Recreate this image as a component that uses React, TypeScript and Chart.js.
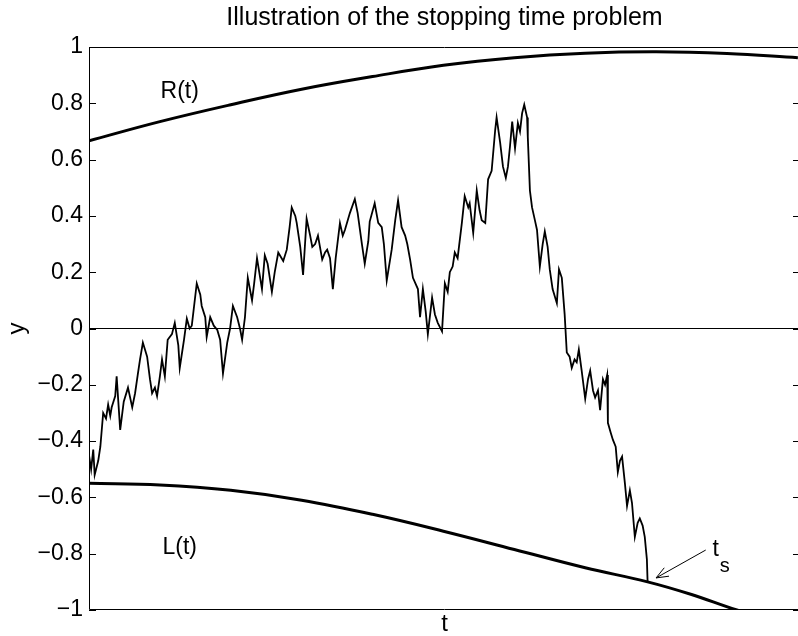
import React, { useEffect, useRef } from "react";
import { Chart, registerables } from "chart.js";

Chart.register(...registerables);

const FONT = "'Liberation Sans', Arial, Helvetica, sans-serif";
const TITLE = "Illustration of the stopping time problem";
const X_LABEL = "t";
const Y_LABEL = "y";
const Y_MIN = -1;
const Y_MAX = 1;
const Y_STEP = 0.2;
const T_MIN = 0;
const T_MAX = 1.003;

// Upper boundary R(t)
const R_T = [0, 0.1, 0.2, 0.3, 0.4, 0.5, 0.6, 0.7, 0.8, 0.9, 1.0];
const R_Y = [0.667, 0.735, 0.795, 0.85, 0.895, 0.935, 0.962, 0.978, 0.983, 0.977, 0.962];

// Lower boundary L(t)
const L_T = [0, 0.1, 0.2, 0.3, 0.4, 0.5, 0.6, 0.7, 0.788, 0.85, 0.914, 1.0];
const L_Y = [-0.55, -0.556, -0.575, -0.61, -0.66, -0.72, -0.785, -0.85, -0.9, -0.945, -1.0, -1.06];

// Random walk path (stopped at t_s)
const WALK_T = [
  0, 0.003, 0.006, 0.008, 0.013, 0.016, 0.02, 0.024, 0.027, 0.03, 0.032, 0.037, 0.039, 0.044, 0.049,
  0.055, 0.061, 0.065, 0.069, 0.072, 0.076, 0.082, 0.086, 0.089, 0.093, 0.096, 0.1, 0.103, 0.107,
  0.111, 0.117, 0.121, 0.126, 0.128, 0.134, 0.138, 0.142, 0.145, 0.152, 0.157, 0.159, 0.164, 0.166,
  0.171, 0.176, 0.181, 0.185, 0.189, 0.195, 0.199, 0.203, 0.209, 0.213, 0.216, 0.22, 0.224, 0.23,
  0.233, 0.237, 0.244, 0.248, 0.252, 0.258, 0.262, 0.267, 0.274, 0.279, 0.283, 0.286, 0.291, 0.293,
  0.298, 0.302, 0.307, 0.312, 0.315, 0.319, 0.323, 0.329, 0.333, 0.336, 0.34, 0.344, 0.348, 0.354,
  0.358, 0.361, 0.368, 0.375, 0.379, 0.385, 0.389, 0.394, 0.396, 0.403, 0.408, 0.413, 0.416, 0.42,
  0.427, 0.432, 0.436, 0.441, 0.446, 0.449, 0.453, 0.457, 0.464, 0.467, 0.471, 0.475, 0.478, 0.484,
  0.488, 0.492, 0.498, 0.502, 0.506, 0.509, 0.513, 0.516, 0.52, 0.526, 0.53, 0.535, 0.537, 0.542,
  0.547, 0.551, 0.554, 0.559, 0.563, 0.568, 0.573, 0.575, 0.58, 0.584, 0.588, 0.591, 0.594, 0.597,
  0.601, 0.605, 0.608, 0.611, 0.614, 0.618, 0.619, 0.622, 0.625, 0.629, 0.632, 0.636, 0.64, 0.643,
  0.647, 0.65, 0.654, 0.66, 0.663, 0.667, 0.671, 0.674, 0.678, 0.681, 0.685, 0.688, 0.691, 0.695,
  0.7, 0.704, 0.707, 0.711, 0.714, 0.718, 0.721, 0.725, 0.728, 0.731, 0.732, 0.736, 0.739, 0.743,
  0.746, 0.749, 0.752, 0.756, 0.759, 0.763, 0.766, 0.77, 0.774, 0.777, 0.781, 0.784, 0.787, 0.788,
];
const WALK_Y = [
  -0.45, -0.5, -0.43, -0.52, -0.47, -0.42, -0.3, -0.32, -0.27, -0.31, -0.28, -0.24, -0.17, -0.36, -0.26,
  -0.21, -0.28, -0.23, -0.16, -0.11, -0.05, -0.1, -0.18, -0.23, -0.21, -0.24, -0.17, -0.11, -0.17,
  -0.04, -0.02, 0.02, -0.06, -0.14, -0.04, 0.035, 0.0, 0.01, 0.16, 0.12, 0.08, 0.04, -0.03,
  0.04, 0.01, -0.005, -0.04, -0.16, -0.05, 0.0, 0.08, 0.04, 0.0, -0.04, 0.04, 0.18, 0.1,
  0.16, 0.25, 0.14, 0.26, 0.23, 0.13, 0.2, 0.27, 0.24, 0.28, 0.36, 0.43, 0.4, 0.375,
  0.29, 0.19, 0.39, 0.33, 0.29, 0.3, 0.33, 0.245, 0.27, 0.28, 0.25, 0.14, 0.25, 0.375,
  0.33, 0.35, 0.41, 0.46, 0.41, 0.3, 0.23, 0.31, 0.38, 0.445, 0.375, 0.36, 0.3, 0.17,
  0.28, 0.385, 0.455, 0.36, 0.33, 0.3, 0.245, 0.18, 0.14, 0.04, 0.14, 0.06, -0.02, 0.11,
  0.05, 0.02, -0.01, 0.16, 0.13, 0.2, 0.22, 0.27, 0.25, 0.375, 0.47, 0.43, 0.445, 0.34,
  0.49, 0.42, 0.385, 0.375, 0.53, 0.56, 0.705, 0.75, 0.66, 0.575, 0.535, 0.575, 0.65, 0.735,
  0.64, 0.73, 0.7, 0.765, 0.795, 0.75, 0.68, 0.49, 0.43, 0.385, 0.35, 0.22, 0.3, 0.345,
  0.29, 0.21, 0.14, 0.09, 0.21, 0.18, 0.05, -0.085, -0.1, -0.14, -0.11, -0.12, -0.075, -0.15,
  -0.25, -0.18, -0.15, -0.22, -0.245, -0.22, -0.29, -0.18, -0.2, -0.165, -0.335, -0.37, -0.395, -0.42,
  -0.51, -0.47, -0.455, -0.55, -0.63, -0.575, -0.62, -0.74, -0.69, -0.675, -0.7, -0.74, -0.82, -0.9,
];

// Annotations
const CURVE_LABELS = [
  { text: "R(t)", t: 0.128, y: 0.84 },
  { text: "L(t)", t: 0.128, y: -0.78 },
];
const ARROW_TAIL = { t: 0.87, y: -0.787 };
const ARROW_TIP = { t: 0.8, y: -0.886 };
const TS_MAIN = { text: "t", t: 0.884, y: -0.787 };
const TS_SUB = { text: "s", t: 0.897, y: -0.845 };

const pts = (ts: number[], ys: number[]) => ts.map((t, i) => ({ x: t, y: ys[i] }));

const fmtTick = (v: number) => {
  const r = Math.round(v * 10) / 10;
  if (r < 0) return "\u2212" + String(Math.abs(r));
  return String(r === 0 ? 0 : r);
};

const framePlugin = {
  id: "frame",
  afterDatasetsDraw(chart: any) {
    const { ctx, chartArea: a, scales } = chart;
    const xs = scales.x;
    const ys = scales.y;
    ctx.save();
    ctx.strokeStyle = "#000";
    ctx.lineWidth = 1;
    ctx.beginPath();
    ctx.rect(a.left + 0.5, a.top + 0.5, a.right - a.left - 1, a.bottom - a.top - 1);
    ctx.stroke();
    ctx.beginPath();
    for (const tk of ys.ticks) {
      const py = Math.round(ys.getPixelForValue(tk.value)) + 0.5;
      ctx.moveTo(a.left, py);
      ctx.lineTo(a.left + 7, py);
      ctx.moveTo(a.right - 7, py);
      ctx.lineTo(a.right, py);
    }
    ctx.stroke();

    // arrow
    const x0 = xs.getPixelForValue(ARROW_TAIL.t);
    const y0 = ys.getPixelForValue(ARROW_TAIL.y);
    const x1 = xs.getPixelForValue(ARROW_TIP.t);
    const y1 = ys.getPixelForValue(ARROW_TIP.y);
    const ang = Math.atan2(y1 - y0, x1 - x0);
    const hl = 13;
    const ha = 0.38;
    ctx.beginPath();
    ctx.moveTo(x0, y0);
    ctx.lineTo(x1, y1);
    ctx.moveTo(x1 - hl * Math.cos(ang - ha), y1 - hl * Math.sin(ang - ha));
    ctx.lineTo(x1, y1);
    ctx.lineTo(x1 - hl * Math.cos(ang + ha), y1 - hl * Math.sin(ang + ha));
    ctx.stroke();

    // text labels
    ctx.fillStyle = "#000";
    ctx.textAlign = "center";
    ctx.textBaseline = "middle";
    ctx.font = `23px ${FONT}`;
    for (const l of CURVE_LABELS) {
      ctx.fillText(l.text, xs.getPixelForValue(l.t), ys.getPixelForValue(l.y));
    }
    ctx.fillText(TS_MAIN.text, xs.getPixelForValue(TS_MAIN.t), ys.getPixelForValue(TS_MAIN.y));
    ctx.font = `20px ${FONT}`;
    ctx.fillText(TS_SUB.text, xs.getPixelForValue(TS_SUB.t), ys.getPixelForValue(TS_SUB.y));
    ctx.restore();
  },
};

export default function App() {
  const ref = useRef<HTMLCanvasElement | null>(null);

  useEffect(() => {
    if (!ref.current) return;
    const chart = new Chart(ref.current, {
      type: "line",
      data: {
        datasets: [
          {
            label: "zero",
            data: [
              { x: T_MIN, y: 0 },
              { x: T_MAX, y: 0 },
            ],
            borderColor: "#000",
            borderWidth: 1.2,
            pointRadius: 0,
          },
          {
            label: "R(t)",
            data: pts(R_T, R_Y),
            borderColor: "#000",
            borderWidth: 3,
            pointRadius: 0,
            tension: 0.4,
          },
          {
            label: "L(t)",
            data: pts(L_T, L_Y),
            borderColor: "#000",
            borderWidth: 3,
            pointRadius: 0,
            tension: 0.4,
          },
          {
            label: "walk",
            data: pts(WALK_T, WALK_Y),
            borderColor: "#000",
            borderWidth: 1.8,
            pointRadius: 0,
            tension: 0,
          },
        ],
      },
      options: {
        animation: false,
        responsive: false,
        devicePixelRatio: 1,
        layout: { padding: { left: 0, right: 1, top: 0, bottom: 0 } },
        plugins: {
          legend: { display: false },
          tooltip: { enabled: false },
          title: {
            display: true,
            fullSize: false,
            text: TITLE,
            color: "#000",
            font: { family: FONT, size: 25, weight: "normal" },
            padding: { top: 3, bottom: 14 },
          },
        },
        scales: {
          x: {
            type: "linear",
            min: T_MIN,
            max: T_MAX,
            grid: { display: false, drawTicks: false },
            border: { display: false },
            ticks: { display: false },
            title: {
              display: true,
              text: X_LABEL,
              color: "#000",
              font: { family: FONT, size: 24 },
              padding: { top: 0, bottom: -3 },
            },
            afterFit: (s: any) => {
              s.height = 26;
            },
          },
          y: {
            type: "linear",
            min: Y_MIN,
            max: Y_MAX,
            grid: { display: false, drawTicks: false },
            border: { display: false },
            ticks: {
              stepSize: Y_STEP,
              color: "#000",
              font: { family: FONT, size: 23 },
              padding: 6,
              callback: (v: any) => fmtTick(Number(v)),
            },
            title: {
              display: true,
              text: Y_LABEL,
              color: "#000",
              font: { family: FONT, size: 24 },
              padding: { top: 3, bottom: 0 },
            },
            afterFit: (s: any) => {
              s.width = 89;
            },
          },
        },
      },
      plugins: [framePlugin],
    });
    return () => chart.destroy();
  }, []);

  return (
    <div
      style={{
        position: "fixed",
        left: 0,
        top: 0,
        width: 798,
        height: 636,
        overflow: "hidden",
        background: "#fff",
      }}
    >
      <canvas ref={ref} width={801} height={636} style={{ display: "block" }} />
    </div>
  );
}
